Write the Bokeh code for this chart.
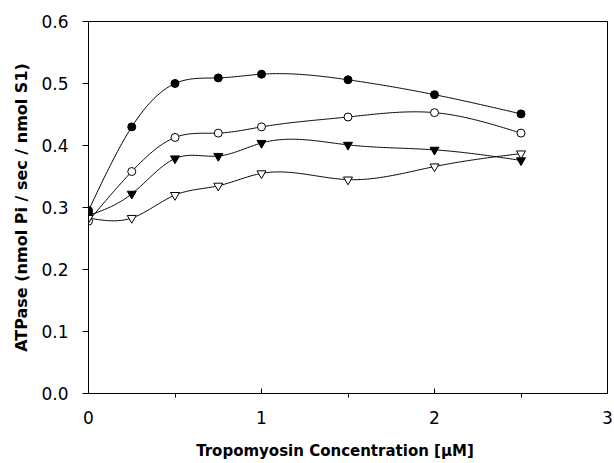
import numpy as np
from bokeh.plotting import figure
from bokeh.models import Range1d, FixedTicker, PrintfTickFormatter
from bokeh.embed import file_html
from bokeh.resources import INLINE

# ---- data ----
conc = [0.0, 0.25, 0.5, 0.75, 1.0, 1.5, 2.0, 2.5]
filled_circle = [0.295, 0.430, 0.500, 0.509, 0.515, 0.506, 0.482, 0.451]
open_circle = [0.278, 0.358, 0.413, 0.420, 0.430, 0.446, 0.453, 0.420]
filled_tri = [0.287, 0.322, 0.379, 0.383, 0.404, 0.401, 0.393, 0.376]
open_tri = [0.283, 0.283, 0.320, 0.335, 0.355, 0.345, 0.366, 0.387]

x_ticks = [0, 1, 2, 3]
x_minor = [0.5, 1.5, 2.5]
y_ticks = [0.0, 0.1, 0.2, 0.3, 0.4, 0.5, 0.6]
x_title = "Tropomyosin Concentration [\u00b5M]"
y_title = "ATPase (nmol Pi / sec / nmol S1)"


def natural_spline(x, y, n=300):
    x = np.asarray(x, float)
    y = np.asarray(y, float)
    m = len(x)
    h = np.diff(x)
    A = np.zeros((m, m))
    b = np.zeros(m)
    A[0, 0] = 1.0
    A[-1, -1] = 1.0
    for i in range(1, m - 1):
        A[i, i - 1] = h[i - 1]
        A[i, i] = 2 * (h[i - 1] + h[i])
        A[i, i + 1] = h[i]
        b[i] = 6 * ((y[i + 1] - y[i]) / h[i] - (y[i] - y[i - 1]) / h[i - 1])
    M = np.linalg.solve(A, b)
    xs = np.linspace(x[0], x[-1], n)
    idx = np.clip(np.searchsorted(x, xs) - 1, 0, m - 2)
    x0, x1 = x[idx], x[idx + 1]
    hh = x1 - x0
    t0 = x1 - xs
    t1 = xs - x0
    ys = (M[idx] * t0 ** 3 / (6 * hh) + M[idx + 1] * t1 ** 3 / (6 * hh)
          + (y[idx] / hh - M[idx] * hh / 6) * t0
          + (y[idx + 1] / hh - M[idx + 1] * hh / 6) * t1)
    return xs, ys


p = figure(width=614, height=463, output_backend="svg", toolbar_location=None,
           x_range=Range1d(0, 3), y_range=Range1d(0, 0.6),
           min_border_left=88, min_border_right=7, min_border_top=21,
           min_border_bottom=70)

p.xgrid.visible = False
p.ygrid.visible = False
p.outline_line_color = "black"
p.outline_line_width = 1
p.background_fill_color = "white"
p.border_fill_color = "white"

series = [
    (filled_circle, "circle", "black"),
    (open_circle, "circle", "white"),
    (filled_tri, "inverted_triangle", "black"),
    (open_tri, "inverted_triangle", "white"),
]
for ys, marker, fill in series:
    sx, sy = natural_spline(conc, ys)
    p.line(sx, sy, line_color="black", line_width=1)
for ys, marker, fill in series:
    p.scatter(conc, ys, marker=marker, size=8 if marker == "circle" else 9,
              fill_color=fill, line_color="black", line_width=1)

font = "DejaVu Sans"

xa = p.xaxis[0]
xa.ticker = FixedTicker(ticks=x_ticks, minor_ticks=x_minor)
xa.major_tick_in = 5
xa.major_tick_out = 0
xa.minor_tick_in = 0
xa.minor_tick_out = 4
xa.axis_line_color = "black"
xa.major_tick_line_color = "black"
xa.minor_tick_line_color = "black"
xa.major_label_text_font = font
xa.major_label_text_font_size = "17px"
xa.major_label_text_color = "black"
xa.major_label_standoff = 13
# title sits a little left of the frame centre in the original
xa.axis_label = x_title + "\u00a0" * 5
xa.axis_label_text_font = font
xa.axis_label_text_font_style = "bold"
xa.axis_label_text_font_size = "15px"
xa.axis_label_text_color = "black"
xa.axis_label_standoff = 15

ya = p.yaxis[0]
ya.ticker = FixedTicker(ticks=y_ticks)
ya.formatter = PrintfTickFormatter(format="%.1f")
ya.major_tick_in = 0
ya.major_tick_out = 6
ya.minor_tick_line_color = None
ya.axis_line_color = "black"
ya.major_tick_line_color = "black"
ya.major_label_text_font = font
ya.major_label_text_font_size = "17px"
ya.major_label_text_color = "black"
ya.major_label_standoff = 14
ya.axis_label = y_title
ya.axis_label_text_font = font
ya.axis_label_text_font_style = "bold"
ya.axis_label_text_font_size = "16px"
ya.axis_label_text_color = "black"
ya.axis_label_standoff = 7

open("out.html", "w").write(file_html(p, INLINE))
